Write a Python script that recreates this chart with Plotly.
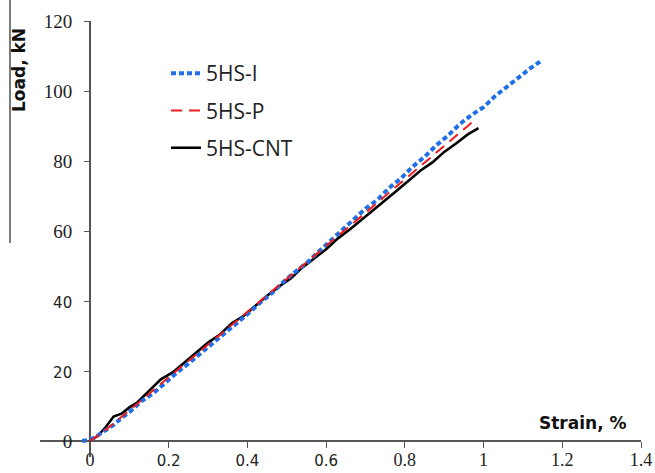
import plotly.graph_objects as go

# ---- data ----
i_strain = [-0.02, 0.0, 0.02, 0.04, 0.06, 0.08, 0.10, 0.13, 0.16, 0.19, 0.22, 0.25, 0.28, 0.31,
            0.34, 0.37, 0.40, 0.43, 0.46, 0.49, 0.52, 0.55, 0.58, 0.61, 0.64, 0.67, 0.70, 0.73,
            0.76, 0.79, 0.82, 0.85, 0.88, 0.91, 0.94, 0.97, 1.00, 1.03, 1.06, 1.09, 1.12, 1.15]
i_load = [0.0, 0.3, 1.6, 3.2, 4.6, 6.6, 8.2, 11.3, 13.6, 16.5, 19.5, 22.1, 25.0, 27.6,
          30.8, 33.4, 36.2, 39.3, 42.0, 45.3, 48.2, 50.8, 54.0, 57.1, 60.0, 63.2, 66.4, 68.9,
          72.3, 75.0, 78.4, 81.2, 84.5, 87.3, 90.6, 93.2, 95.4, 98.6, 101.3, 104.2, 106.6, 108.9]

p_strain = [0.0, 0.03, 0.06, 0.10, 0.15, 0.20, 0.25, 0.30, 0.35, 0.40, 0.45, 0.50, 0.55, 0.60,
            0.65, 0.70, 0.75, 0.80, 0.85, 0.90, 0.95, 0.97]
p_load = [0.0, 2.3, 5.0, 8.8, 13.5, 18.3, 22.9, 27.6, 32.2, 36.9, 41.6, 46.3, 51.0, 55.6,
          60.4, 65.2, 70.0, 74.7, 79.4, 84.3, 89.1, 91.0]

cnt_strain = [0.0, 0.02, 0.04, 0.06, 0.08, 0.10, 0.12, 0.15, 0.18, 0.21, 0.24, 0.27, 0.30, 0.33,
              0.36, 0.39, 0.42, 0.45, 0.48, 0.51, 0.54, 0.57, 0.60, 0.63, 0.66, 0.69, 0.72, 0.75,
              0.78, 0.81, 0.84, 0.87, 0.90, 0.93, 0.96, 0.987]
cnt_load = [0.0, 1.5, 4.0, 7.0, 7.8, 9.6, 11.0, 14.2, 17.6, 19.6, 22.5, 25.3, 28.1, 30.4,
            33.6, 35.7, 38.6, 41.5, 44.1, 46.4, 49.6, 52.1, 54.8, 57.9, 60.4, 63.2, 66.1, 68.8,
            71.6, 74.5, 77.3, 79.6, 82.6, 85.0, 87.6, 89.4]

series_names = ["5HS-I", "5HS-P", "5HS-CNT"]

x_tickvals = [0, 0.2, 0.4, 0.6, 0.8, 1.0, 1.2, 1.4]
x_ticklabels = ["0", "0.2", "0.4", "0.6", "0.8", "1", "1.2", "1.4"]
y_tickvals = [0, 20, 40, 60, 80, 100, 120]
y_ticklabels = ["0", "20", "40", "60", "80", "100", "120"]

SERIF = "Liberation Serif"
SANS = "DejaVu Sans"


def styled(labels, sans_set):
    out = []
    for t in labels:
        if t in sans_set:
            out.append(f'<span style="font-family:{SANS};font-size:15px">{t}</span>')
        else:
            out.append(t)
    return out


fig = go.Figure()
fig.add_trace(go.Scatter(x=cnt_strain, y=cnt_load, mode="lines", name=series_names[2],
                         legendgroup="c", legendrank=3,
                         line=dict(color="black", width=2.6)))
fig.add_trace(go.Scatter(x=i_strain, y=i_load, mode="lines", name=series_names[0],
                         legendgroup="a", legendrank=1,
                         line=dict(color="#1f6fe8", width=4, dash="5px,3px")))
fig.add_trace(go.Scatter(x=p_strain, y=p_load, mode="lines", name=series_names[1],
                         legendgroup="b", legendrank=2,
                         line=dict(color="#ee1c1c", width=2, dash="11px,7px")))

W, H = 655, 473
L, R, T, B = 40, 14, 21, 16
PW, PH = W - L - R, H - T - B
xr = [-50 / 393.57, 1.4]
yr = [-16 / 3.5, 120]
x0_frac = (0 - xr[0]) / (xr[1] - xr[0])
y0_frac = (0 - yr[0]) / (yr[1] - yr[0])


def px(xp):
    return (xp - L) / PW


def py(yp):
    return (H - B - yp) / PH


axcol = "#555555"
fig.update_layout(
    width=W, height=H,
    margin=dict(l=L, r=R, t=T, b=B, pad=0, autoexpand=False),
    paper_bgcolor="white", plot_bgcolor="white",
    showlegend=True,
    legend=dict(x=px(166), y=py(53),
                xanchor="left", yanchor="top",
                bgcolor="rgba(0,0,0,0)", tracegroupgap=7,
                font=dict(family="Open Sans", size=21, color="#222222"),
                itemwidth=30),
    xaxis=dict(range=xr, anchor="free", position=y0_frac, automargin=False,
               showgrid=False, zeroline=True, zerolinecolor=axcol, zerolinewidth=1.6,
               showline=False, ticks="outside", ticklen=6, tickwidth=1.3, tickcolor=axcol,
               ticklabelstandoff=-4,
               tickvals=x_tickvals, ticktext=styled(x_ticklabels, {"0.2", "0.4", "0.6"}),
               tickfont=dict(family=SERIF, size=18, color="#222222")),
    yaxis=dict(range=yr, anchor="free", position=x0_frac, automargin=False,
               showgrid=False, zeroline=True, zerolinecolor=axcol, zerolinewidth=1.6,
               showline=False, ticks="outside", ticklen=6, tickwidth=1.3, tickcolor=axcol,
               ticklabelstandoff=8,
               tickvals=y_tickvals, ticktext=styled(y_ticklabels, {"20", "40"}),
               tickfont=dict(family=SERIF, size=19, color="#222222")),
    annotations=[
        dict(text="<b>Load, kN</b>", textangle=-90, xref="paper", yref="paper",
             x=px(19), y=py(70), xanchor="center", yanchor="middle",
             showarrow=False, font=dict(family="DejaVu Sans", size=17, color="#111111")),
        dict(text="<b>Strain, %</b>", xref="paper", yref="paper",
             x=px(583), y=py(423), xanchor="center", yanchor="middle",
             showarrow=False, font=dict(family="DejaVu Sans", size=17, color="#111111")),
    ],
    shapes=[
        dict(type="line", xref="paper", yref="paper",
             x0=px(10), x1=px(10), y0=py(0), y1=py(243),
             line=dict(color="#222222", width=1.2)),
    ],
)

fig.write_html("out.html", config={"displayModeBar": False},
               post_script="document.body.style.margin='0';document.body.style.overflow='hidden';")
